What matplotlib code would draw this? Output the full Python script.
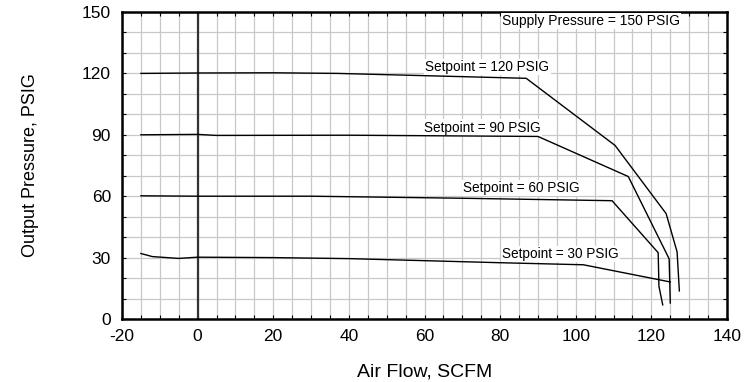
import matplotlib
matplotlib.use("Agg")
import matplotlib.pyplot as plt
from matplotlib.ticker import MultipleLocator

# Curves: (air flow SCFM, output pressure PSIG)
SP120_X = [-15, 0, 20, 37, 86.9, 110.4, 123.9, 126.8, 127.4]
SP120_Y = [120, 120.2, 120.3, 120, 117.6, 84.8, 51.5, 32.8, 13.7]
SP90_X = [-15, 0, 5, 40, 90, 113.9, 124.7, 125]
SP90_Y = [90, 90.2, 89.7, 89.8, 89.2, 69.6, 29.4, 7.8]
SP60_X = [-15, 0, 30, 70, 109.6, 121.8, 122, 123]
SP60_Y = [60.2, 60, 60, 59, 57.8, 32.4, 16, 6.9]
SP30_X = [-15, -12, -5, 0, 20, 40, 80, 102, 125]
SP30_Y = [32, 30.5, 29.6, 30.2, 30, 29.5, 27.5, 26.5, 18.1]

CURVES = [(SP120_X, SP120_Y), (SP90_X, SP90_Y), (SP60_X, SP60_Y), (SP30_X, SP30_Y)]

LABELS = ["Setpoint = 120 PSIG", "Setpoint = 90 PSIG",
          "Setpoint = 60 PSIG", "Setpoint = 30 PSIG"]
LABEL_POS = [(60.2, 121.2), (59.9, 91.6), (70.2, 62.0), (80.5, 29.8)]

plt.rcParams["font.family"] = ["Liberation Sans", "DejaVu Sans"]
plt.rcParams["axes.unicode_minus"] = False

fig = plt.figure(figsize=(7.51, 3.82), dpi=100)
ax = fig.add_axes([122 / 751, 1 - 319 / 382, (727 - 122) / 751, (319 - 12) / 382])

for xs, ys in CURVES:
    ax.plot(xs, ys, color="black", linewidth=1.0, zorder=4)

ax.axvline(0, color="#333333", linewidth=1.6, zorder=2)

ax.set_xlim(-20, 140)
ax.set_ylim(0, 150)
ax.xaxis.set_major_locator(MultipleLocator(20))
ax.xaxis.set_minor_locator(MultipleLocator(5))
ax.yaxis.set_major_locator(MultipleLocator(30))
ax.yaxis.set_minor_locator(MultipleLocator(10))
ax.grid(which="both", color="#c8c8c8", linewidth=0.9, zorder=0)
ax.set_axisbelow(True)
ax.tick_params(which="both", direction="in", top=True, right=True,
               length=3, width=0.8, labelsize=12.5)
ax.tick_params(axis="x", pad=7)
ax.tick_params(axis="y", pad=8)
for s in ax.spines.values():
    s.set_linewidth(1.8)

ax.set_xlabel("Air Flow, SCFM", fontsize=14, labelpad=14)
ax.set_ylabel("Output Pressure, PSIG", fontsize=13, labelpad=31)

bbox = dict(facecolor="white", edgecolor="none", pad=1)
for (tx, ty), txt in zip(LABEL_POS, LABELS):
    ax.text(tx, ty, txt, fontsize=9.8, ha="left", va="baseline", bbox=bbox, zorder=3)
ax.text(80.5, 145.6, "Supply Pressure = 150 PSIG", fontsize=10, ha="left",
        va="center", bbox=bbox, zorder=3)

fig.savefig("out.png", dpi=100)
